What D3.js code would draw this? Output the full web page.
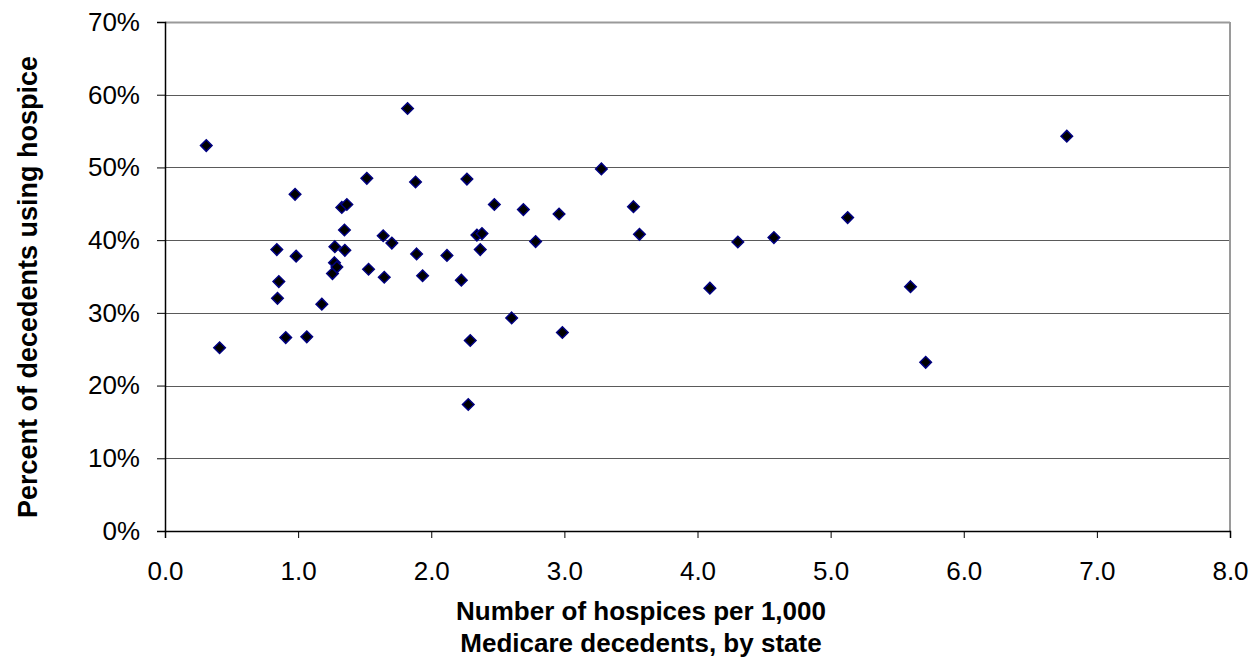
<!DOCTYPE html>
<html>
<head>
<meta charset="utf-8">
<script src="https://cdn.jsdelivr.net/npm/d3@7"></script>
<style>
  html, body { margin: 0; padding: 0; background: #fff; }
  svg { display: block; font-family: Arial, "Liberation Sans", sans-serif; }
</style>
</head>
<body>
<svg id="chart" width="1250" height="662"></svg>
<script>
// Hospices per 1,000 Medicare decedents (by state)
const hospicesPer1000 = [0.31, 0.41, 0.84, 0.855, 0.845, 0.907, 0.977, 0.985, 1.065, 1.178,
  1.258, 1.273, 1.276, 1.291, 1.328, 1.348, 1.351, 1.366, 1.516, 1.529,
  1.639, 1.647, 1.704, 1.822, 1.882, 1.89, 1.935, 2.118, 2.226, 2.268,
  2.278, 2.293, 2.343, 2.368, 2.381, 2.474, 2.604, 2.692, 2.784, 2.96,
  2.985, 3.278, 3.519, 3.564, 4.093, 4.303, 4.574, 5.128, 5.60, 5.714, 6.774];
// Percent of decedents using hospice (fraction)
const pctUsingHospice = [0.530, 0.252, 0.387, 0.343, 0.320, 0.266, 0.463, 0.378, 0.267, 0.312,
  0.354, 0.369, 0.391, 0.363, 0.445, 0.414, 0.386, 0.449, 0.485, 0.360,
  0.406, 0.349, 0.396, 0.581, 0.480, 0.381, 0.351, 0.379, 0.345, 0.484,
  0.174, 0.262, 0.407, 0.387, 0.409, 0.449, 0.293, 0.442, 0.398, 0.436,
  0.273, 0.498, 0.446, 0.408, 0.334, 0.3975, 0.4035, 0.431, 0.336, 0.232, 0.543];
const xTicks = [0, 1, 2, 3, 4, 5, 6, 7, 8];
const yTicks = [0, 0.1, 0.2, 0.3, 0.4, 0.5, 0.6, 0.7];
const xTitleLines = ["Number of hospices per 1,000", "Medicare decedents, by state"];
const yTitle = "Percent of decedents using hospice";

const data = hospicesPer1000.map((x, i) => ({ x, y: pctUsingHospice[i] }));

const pLeft = 165, pRight = 1230, pTop = 22, pBottom = 531;
const svg = d3.select("#chart");

const x = d3.scaleLinear().domain([0, 8]).range([pLeft, pRight]);
const y = d3.scaleLinear().domain([0, 0.7]).range([pBottom, pTop]);

// gridlines
svg.append("g").selectAll("line").data(yTicks.slice(1, -1)).join("line")
  .attr("x1", pLeft).attr("x2", pRight)
  .attr("y1", d => Math.round(y(d)) + 0.5).attr("y2", d => Math.round(y(d)) + 0.5)
  .attr("stroke", "#5a5a5a").attr("stroke-width", 1);

// top & right border
svg.append("line").attr("x1", pLeft).attr("x2", pRight).attr("y1", pTop + 0.5).attr("y2", pTop + 0.5)
  .attr("stroke", "#9a9a9a").attr("stroke-width", 2);
svg.append("line").attr("x1", pRight).attr("x2", pRight).attr("y1", pTop).attr("y2", pBottom)
  .attr("stroke", "#9a9a9a").attr("stroke-width", 2);

// y axis
const yAxis = d3.axisLeft(y).tickValues(yTicks).tickFormat(d3.format(".0%")).tickSize(8).tickPadding(17);
const gy = svg.append("g").attr("transform", `translate(${pLeft},0)`).call(yAxis);
gy.select(".domain").attr("stroke", "#000").attr("stroke-width", 1.5);
gy.selectAll(".tick line").attr("stroke", "#000");
gy.selectAll("text").attr("font-size", 26).attr("fill", "#000")
  .attr("font-family", "Arial, 'Liberation Sans', sans-serif");

// x axis
const xAxis = d3.axisBottom(x).tickValues(xTicks).tickFormat(d3.format(".1f")).tickSize(7).tickPadding(24);
const gx = svg.append("g").attr("transform", `translate(0,${pBottom})`).call(xAxis);
gx.select(".domain").attr("stroke", "#000").attr("stroke-width", 1.5);
gx.selectAll(".tick line").attr("stroke", "#000");
gx.selectAll("text").attr("font-size", 26).attr("fill", "#000")
  .attr("font-family", "Arial, 'Liberation Sans', sans-serif");

// points
const diamond = d3.symbol().type(d3.symbolDiamond2).size(85);
svg.append("g").selectAll("path").data(data).join("path")
  .attr("d", diamond)
  .attr("transform", d => `translate(${x(d.x)},${y(d.y)})`)
  .attr("fill", "#000")
  .attr("stroke", "#000080").attr("stroke-width", 1.5);

// axis titles
const xt = svg.append("text").attr("text-anchor", "middle")
  .attr("font-size", 26).attr("font-weight", "bold").attr("fill", "#000");
xTitleLines.forEach((t, i) => {
  xt.append("tspan").attr("x", 641).attr("y", 620 + i * 32).text(t);
});

svg.append("text").attr("text-anchor", "middle")
  .attr("transform", `translate(37,287) rotate(-90)`)
  .attr("font-size", 27).attr("font-weight", "bold").attr("fill", "#000")
  .text(yTitle);
</script>
</body>
</html>
